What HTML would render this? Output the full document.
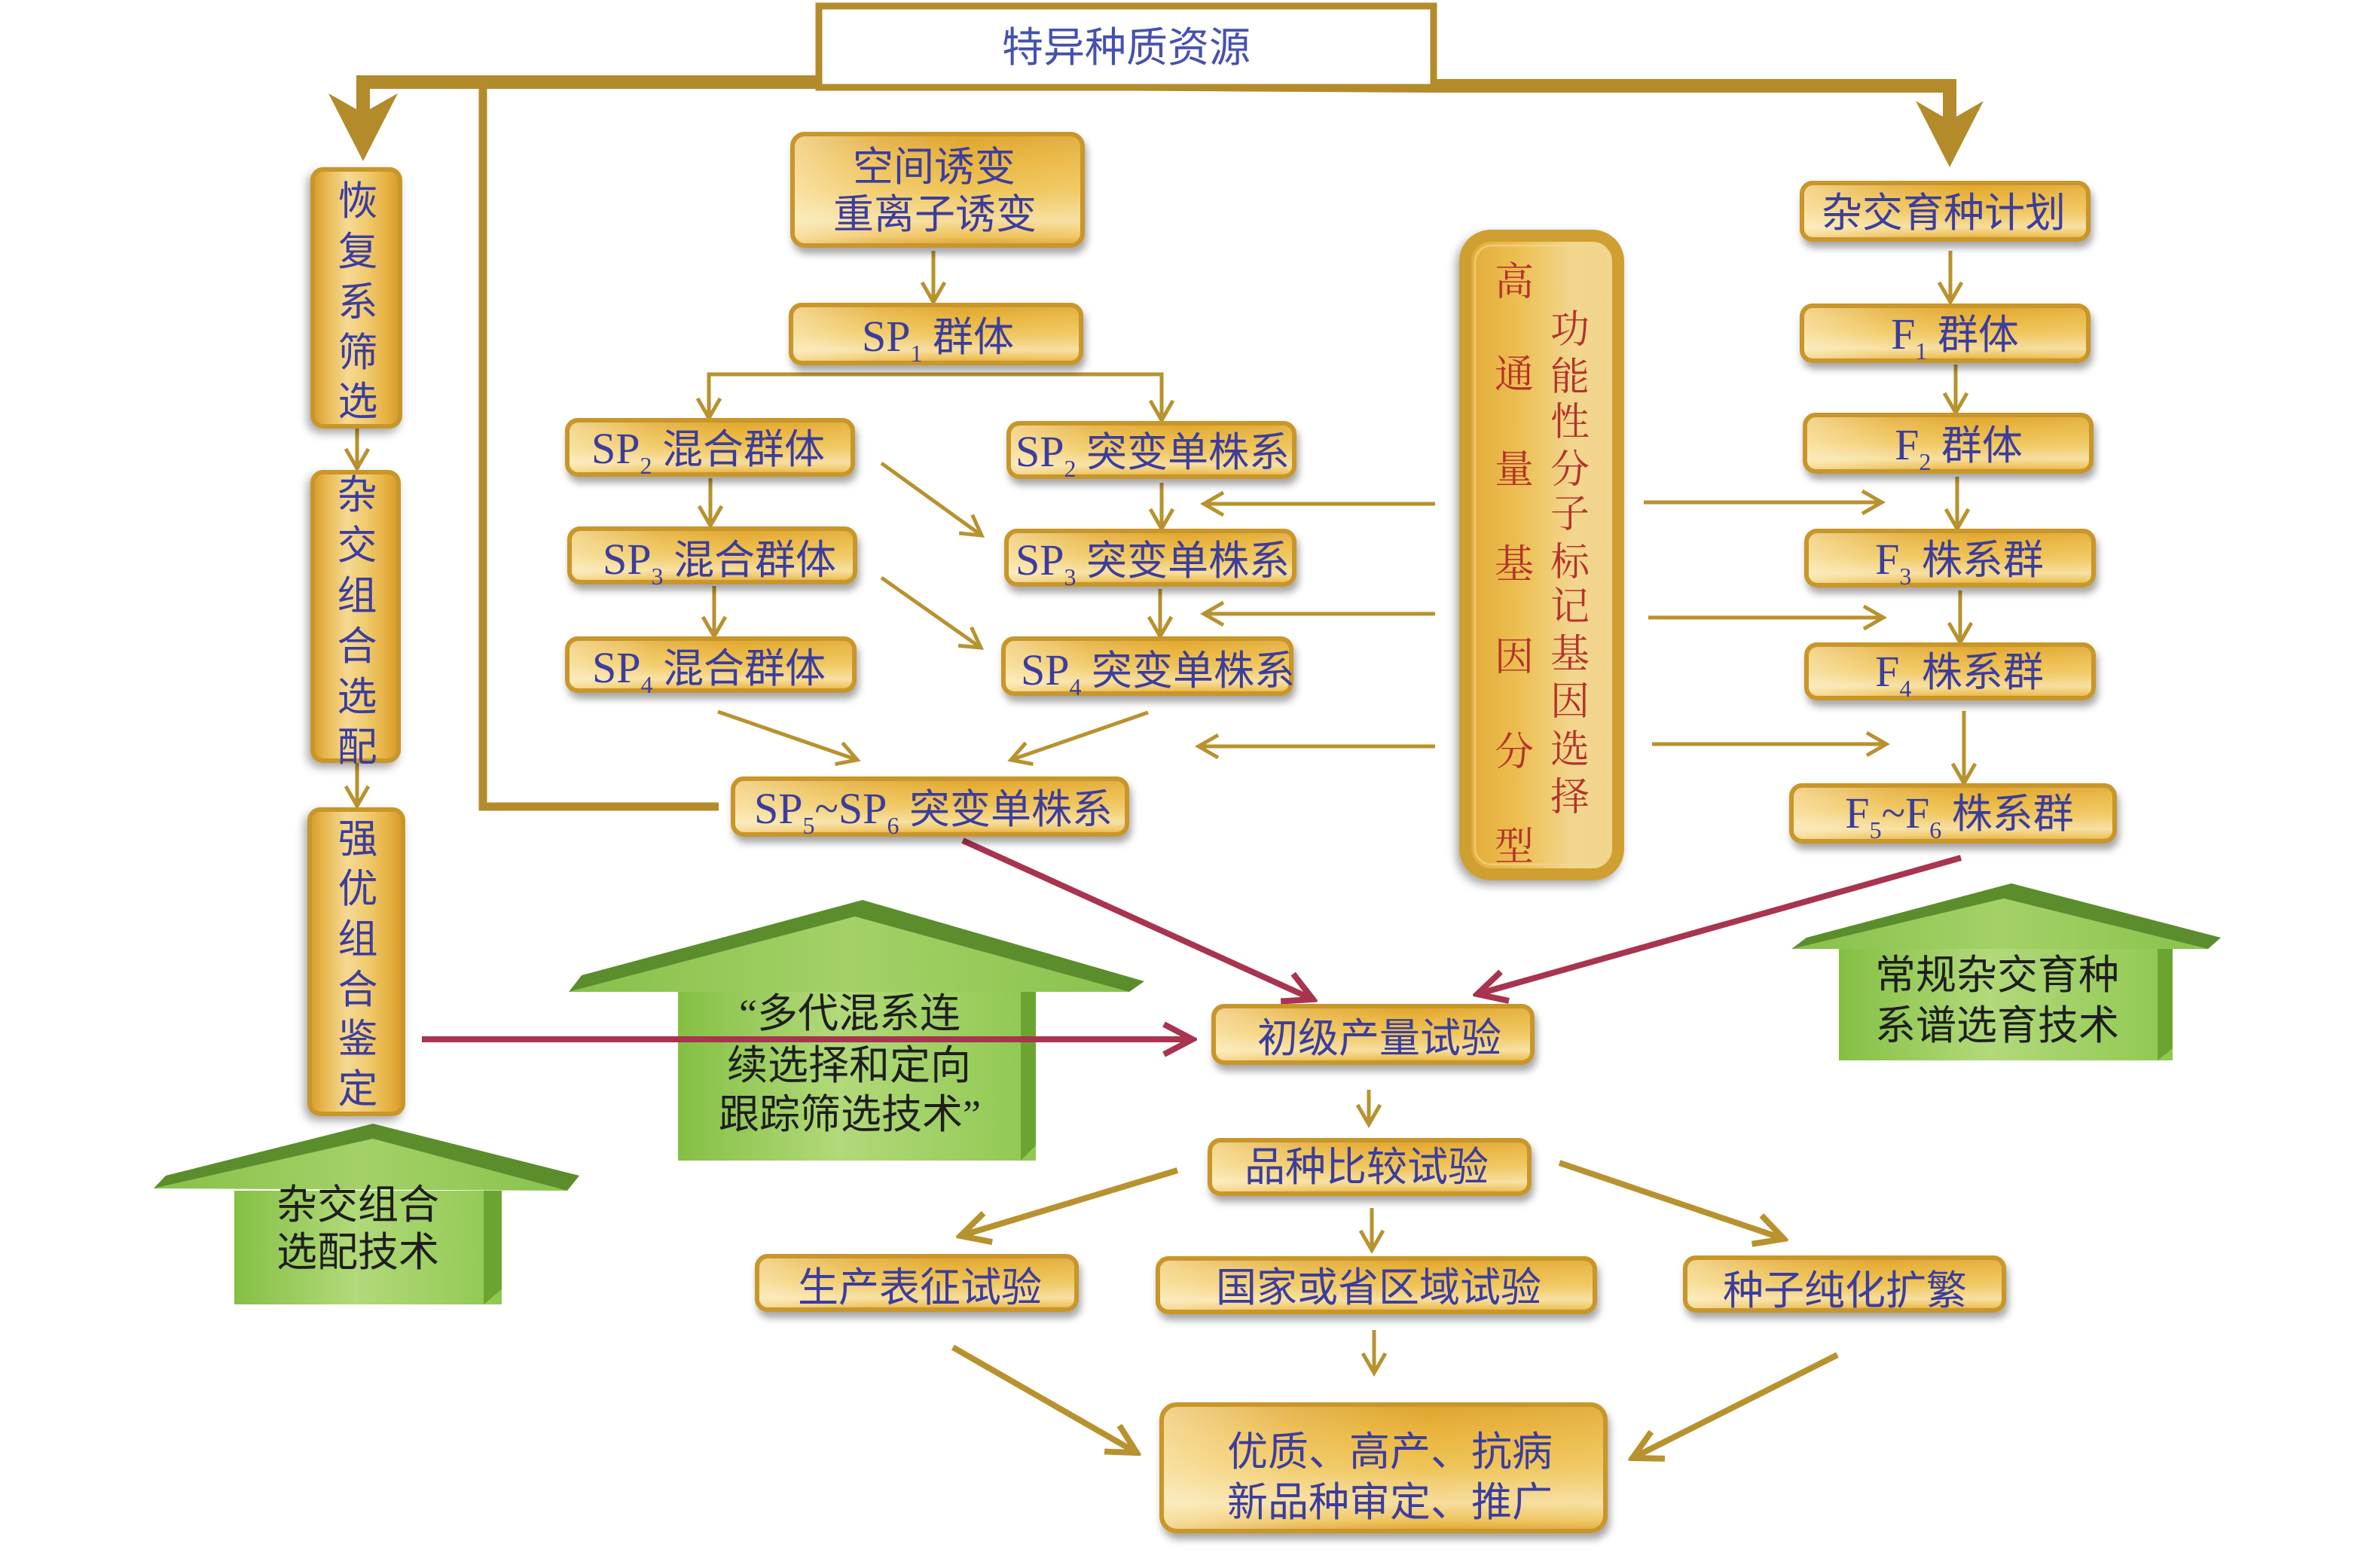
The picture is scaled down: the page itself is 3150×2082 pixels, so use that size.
<!DOCTYPE html>
<html>
<head>
<meta charset="utf-8">
<style>
  html, body { margin: 0; padding: 0; background: #ffffff; }
  body { width: 3150px; height: 2082px; overflow: hidden; }
  svg { display: block; }
  .t { font-family: "Liberation Serif", "Noto Sans CJK SC", sans-serif; fill: #3c3d9d; font-size: 54px; text-anchor: middle; }
  .v { font-family: "Liberation Serif", "Noto Sans CJK SC", sans-serif; fill: #3c3d9d; font-size: 53px; text-anchor: middle; }
  .r { font-family: "Liberation Serif", "Noto Serif CJK SC", serif; fill: #b5322c; font-size: 52px; text-anchor: middle; }
  .h { font-family: "Liberation Serif", "Noto Sans CJK SC", sans-serif; fill: #1e1e1e; font-size: 54px; text-anchor: middle; }
  .ttl { font-family: "Liberation Serif", "Noto Sans CJK SC", sans-serif; fill: #4651ad; font-size: 55px; text-anchor: middle; }
</style>
</head>
<body>
<svg width="3150" height="2082" viewBox="0 0 3150 2082" xmlns="http://www.w3.org/2000/svg">
  <defs>
    <linearGradient id="gold" x1="0" y1="0" x2="0" y2="1">
      <stop offset="0" stop-color="#dea42e"/>
      <stop offset="0.22" stop-color="#e9b43c"/>
      <stop offset="0.5" stop-color="#efc457"/>
      <stop offset="0.78" stop-color="#f6dd9c"/>
      <stop offset="0.92" stop-color="#eec157"/>
      <stop offset="1" stop-color="#dba032"/>
    </linearGradient>
    <linearGradient id="gloss" x1="0" y1="0" x2="1" y2="0">
      <stop offset="0" stop-color="#fff8dc" stop-opacity="0.55"/>
      <stop offset="0.3" stop-color="#fff8dc" stop-opacity="0.18"/>
      <stop offset="0.6" stop-color="#fff8dc" stop-opacity="0"/>
      <stop offset="1" stop-color="#fff8dc" stop-opacity="0.12"/>
    </linearGradient>
    <linearGradient id="goldv" x1="0" y1="0" x2="1" y2="0">
      <stop offset="0" stop-color="#d69b2a"/>
      <stop offset="0.18" stop-color="#eabb55"/>
      <stop offset="0.4" stop-color="#f5d994"/>
      <stop offset="0.62" stop-color="#f0cb6e"/>
      <stop offset="0.85" stop-color="#e6b042"/>
      <stop offset="1" stop-color="#d69b2a"/>
    </linearGradient>
    <linearGradient id="goldbig" x1="0" y1="0" x2="1" y2="0">
      <stop offset="0" stop-color="#e2aa36"/>
      <stop offset="0.35" stop-color="#ecbf52"/>
      <stop offset="0.7" stop-color="#f2d68e"/>
      <stop offset="1" stop-color="#f0d48c"/>
    </linearGradient>
    <linearGradient id="gbody" x1="0" y1="0" x2="1" y2="0">
      <stop offset="0" stop-color="#84c044"/>
      <stop offset="0.45" stop-color="#b2d97a"/>
      <stop offset="1" stop-color="#8fc851"/>
    </linearGradient>
    <linearGradient id="groof" x1="0" y1="0" x2="1" y2="0">
      <stop offset="0" stop-color="#86c049"/>
      <stop offset="0.5" stop-color="#a3d167"/>
      <stop offset="1" stop-color="#88c24c"/>
    </linearGradient>
    <filter id="sh" x="-10%" y="-20%" width="125%" height="160%">
      <feDropShadow dx="3" dy="8" stdDeviation="5" flood-color="#000" flood-opacity="0.35"/>
    </filter>
    <filter id="shv" x="-30%" y="-5%" width="160%" height="115%">
      <feDropShadow dx="-4" dy="6" stdDeviation="6" flood-color="#000" flood-opacity="0.35"/>
    </filter>
    <marker id="mg" markerUnits="userSpaceOnUse" viewBox="0 0 40 40" markerWidth="40" markerHeight="40" refX="34" refY="20" orient="auto">
      <path d="M8,5 L34,20 L8,35" fill="none" stroke="#b8922e" stroke-width="5"/>
    </marker>
    <marker id="mG" markerUnits="userSpaceOnUse" viewBox="0 0 52 52" markerWidth="52" markerHeight="52" refX="46" refY="26" orient="auto">
      <path d="M8,6 L46,26 L8,46" fill="none" stroke="#b8922e" stroke-width="8"/>
    </marker>
    <marker id="mr" markerUnits="userSpaceOnUse" viewBox="0 0 52 52" markerWidth="52" markerHeight="52" refX="46" refY="26" orient="auto">
      <path d="M8,6 L46,26 L8,46" fill="none" stroke="#a8344f" stroke-width="8"/>
    </marker>
  </defs>

  <!-- ============ Green houses ============ -->
  <!-- House 1: 杂交组合选配技术 -->
  <polygon points="204,1578 495,1512 753,1581" fill="url(#groof)"/>
  <polygon points="204,1578 220,1561 495,1492 769,1561 753,1581 495,1512" fill="#5c8d2c"/>
  <rect x="311" y="1581" width="355" height="151" fill="url(#gbody)"/>
  <polygon points="642,1581 666,1581 666,1712 642,1732" fill="#6aa532"/>
  <text class="h" x="475" y="1618">杂交组合</text>
  <text class="h" x="475" y="1681">选配技术</text>

  <!-- House 2: 多代混系 -->
  <polygon points="755,1317 1135,1217 1499,1317" fill="url(#groof)"/>
  <polygon points="755,1317 772,1295 1145,1195 1519,1303 1499,1317 1135,1217" fill="#5c8d2c"/>
  <rect x="900" y="1317" width="475" height="224" fill="url(#gbody)"/>
  <polygon points="1355,1317 1375,1317 1375,1521 1355,1541" fill="#6aa532"/>
  <text class="h" x="1128" y="1364">“多代混系连</text>
  <text class="h" x="1127" y="1433">续选择和定向</text>
  <text class="h" x="1128" y="1498">跟踪筛选技术”</text>

  <!-- House 3: 常规杂交育种 -->
  <polygon points="2378,1260 2660,1193 2931,1260" fill="url(#groof)"/>
  <polygon points="2378,1260 2398,1245 2670,1173 2948,1245 2931,1260 2660,1193" fill="#5c8d2c"/>
  <rect x="2441" y="1260" width="443" height="148" fill="url(#gbody)"/>
  <polygon points="2864,1260 2884,1260 2884,1392 2864,1408" fill="#6aa532"/>
  <text class="h" x="2651" y="1313">常规杂交育种</text>
  <text class="h" x="2651" y="1380">系谱选育技术</text>

  <!-- ============ Thick top bar & barbed arrows ============ -->
  <polyline points="482,152 482,109 1100,109 1900,114 2588,114 2588,162" fill="none" stroke="#b38b2a" stroke-width="18" stroke-linejoin="miter"/>
  <polygon points="436,124 482,150 528,124 482,214" fill="#b38b2a"/>
  <polygon points="2543,134 2588,160 2633,134 2588,222" fill="#b38b2a"/>

  <!-- thin-ish gold loop line on the left -->
  <polyline points="641,109 641,1071 954,1071" fill="none" stroke="#b38b2a" stroke-width="11"/>

  <!-- ============ Thin gold connectors ============ -->
  <g fill="none" stroke="#b8922e" stroke-width="5" marker-end="url(#mg)">
    <path d="M474,569 L474,622"/>
    <path d="M474,1013 L474,1070"/>
    <path d="M1239,333 L1239,401"/>
    <path d="M1242,497 L941,497 L941,555"/>
    <path d="M1242,497 L1542,497 L1542,558"/>
    <path d="M943,635 L943,698"/>
    <path d="M948,778 L948,845"/>
    <path d="M1542,641 L1542,702"/>
    <path d="M1540,782 L1540,845"/>
    <path d="M1170,615 L1303,711"/>
    <path d="M1170,767 L1302,860"/>
    <path d="M953,945 L1138,1009"/>
    <path d="M1524,946 L1342,1009"/>
    <path d="M1905,669 L1598,669"/>
    <path d="M1905,815 L1598,815"/>
    <path d="M1905,991 L1591,991"/>
    <path d="M2182,667 L2498,667"/>
    <path d="M2188,820 L2500,820"/>
    <path d="M2193,988 L2504,988"/>
    <path d="M2589,333 L2589,401"/>
    <path d="M2596,484 L2596,548"/>
    <path d="M2598,633 L2598,702"/>
    <path d="M2602,784 L2602,853"/>
    <path d="M2607,944 L2607,1040"/>
    <path d="M1817,1447 L1817,1493"/>
    <path d="M1821,1604 L1821,1660"/>
    <path d="M1824,1766 L1824,1823"/>
  </g>

  <!-- ============ Thicker gold diagonals (bottom) ============ -->
  <g fill="none" stroke="#b8922e" stroke-width="8" marker-end="url(#mG)">
    <path d="M1563,1554 L1275,1641"/>
    <path d="M2070,1544 L2368,1645"/>
    <path d="M1265,1789 L1509,1929"/>
    <path d="M2439,1799 L2167,1936"/>
  </g>

  <!-- ============ Red connectors ============ -->
  <g fill="none" stroke="#a8344f" stroke-width="8" marker-end="url(#mr)">
    <path d="M1278,1116 L1743,1327"/>
    <path d="M2603,1139 L1961,1320"/>
    <path d="M560,1380 L1583,1380"/>
  </g>

  <!-- ============ Title box ============ -->
  <rect x="1087" y="8" width="816" height="108" fill="#ffffff" stroke="#b38b2a" stroke-width="9"/>
  <text class="ttl" x="1495" y="82">特异种质资源</text>

  <!-- ============ Horizontal gold boxes ============ -->
  <g filter="url(#sh)" stroke="#c9962b" stroke-width="6" fill="url(#gold)">
    <rect x="1052" y="178" width="385" height="148" rx="16"/>
    <rect x="1050" y="405" width="385" height="77" rx="14"/>
    <rect x="753" y="558" width="379" height="72" rx="14"/>
    <rect x="1339" y="562" width="379" height="71" rx="14"/>
    <rect x="756" y="702" width="379" height="71" rx="14"/>
    <rect x="1336" y="705" width="382" height="71" rx="14"/>
    <rect x="753" y="848" width="381" height="69" rx="14"/>
    <rect x="1332" y="848" width="382" height="73" rx="14"/>
    <rect x="973" y="1034" width="523" height="74" rx="14"/>
    <rect x="2392" y="243" width="380" height="75" rx="14"/>
    <rect x="2392" y="406" width="380" height="73" rx="14"/>
    <rect x="2396" y="551" width="380" height="75" rx="14"/>
    <rect x="2398" y="705" width="381" height="72" rx="14"/>
    <rect x="2398" y="856" width="381" height="71" rx="14"/>
    <rect x="2378" y="1043" width="429" height="74" rx="14"/>
    <rect x="1611" y="1336" width="423" height="75" rx="14"/>
    <rect x="1606" y="1514" width="424" height="71" rx="14"/>
    <rect x="1005" y="1668" width="424" height="71" rx="14"/>
    <rect x="1537" y="1671" width="580" height="71" rx="14"/>
    <rect x="2237" y="1670" width="423" height="70" rx="14"/>
    <rect x="1542" y="1865" width="589" height="168" rx="20"/>
  </g>
  <g fill="url(#gloss)">
    <rect x="1055" y="181" width="379" height="142" rx="14"/>
    <rect x="1053" y="408" width="379" height="71" rx="12"/>
    <rect x="756" y="561" width="373" height="66" rx="12"/>
    <rect x="1342" y="565" width="373" height="65" rx="12"/>
    <rect x="759" y="705" width="373" height="65" rx="12"/>
    <rect x="1339" y="708" width="376" height="65" rx="12"/>
    <rect x="756" y="851" width="375" height="63" rx="12"/>
    <rect x="1335" y="851" width="376" height="67" rx="12"/>
    <rect x="976" y="1037" width="517" height="68" rx="12"/>
    <rect x="2395" y="246" width="374" height="69" rx="12"/>
    <rect x="2395" y="409" width="374" height="67" rx="12"/>
    <rect x="2399" y="554" width="374" height="69" rx="12"/>
    <rect x="2401" y="708" width="375" height="66" rx="12"/>
    <rect x="2401" y="859" width="375" height="65" rx="12"/>
    <rect x="2381" y="1046" width="423" height="68" rx="12"/>
    <rect x="1614" y="1339" width="417" height="69" rx="12"/>
    <rect x="1609" y="1517" width="418" height="65" rx="12"/>
    <rect x="1008" y="1671" width="418" height="65" rx="12"/>
    <rect x="1540" y="1674" width="574" height="65" rx="12"/>
    <rect x="2240" y="1673" width="417" height="64" rx="12"/>
    <rect x="1545" y="1868" width="583" height="162" rx="18"/>
  </g>

  <!-- ============ Vertical gold boxes ============ -->
  <g filter="url(#shv)" stroke="#c9962b" stroke-width="6" fill="url(#goldv)">
    <rect x="415" y="225" width="116" height="341" rx="14"/>
    <rect x="415" y="627" width="114" height="383" rx="14"/>
    <rect x="411" y="1075" width="124" height="404" rx="14"/>
  </g>
  <g filter="url(#shv)">
    <rect x="1945" y="313" width="203" height="848" rx="34" fill="url(#goldbig)" stroke="#cf9f30" stroke-width="16"/>
  </g>
  <rect x="1958" y="326" width="177" height="822" rx="22" fill="none" stroke="#f3d98f" stroke-opacity="0.6" stroke-width="3"/>

  <!-- ============ Box texts ============ -->
  <text class="t" x="1240" y="240">空间诱变</text>
  <text class="t" x="1241" y="303">重离子诱变</text>

  <text class="t" x="1245" y="466"><tspan font-size="58">SP</tspan><tspan font-size="32" dy="14">1</tspan><tspan dy="-14"> 群体</tspan></text>
  <text class="t" x="940" y="615"><tspan font-size="58">SP</tspan><tspan font-size="32" dy="14">2</tspan><tspan dy="-14"> 混合群体</tspan></text>
  <text class="t" x="1530" y="619"><tspan font-size="58">SP</tspan><tspan font-size="32" dy="14">2</tspan><tspan dy="-14"> 突变单株系</tspan></text>
  <text class="t" x="955" y="762"><tspan font-size="58">SP</tspan><tspan font-size="32" dy="14">3</tspan><tspan dy="-14"> 混合群体</tspan></text>
  <text class="t" x="1530" y="763"><tspan font-size="58">SP</tspan><tspan font-size="32" dy="14">3</tspan><tspan dy="-14"> 突变单株系</tspan></text>
  <text class="t" x="941" y="906"><tspan font-size="58">SP</tspan><tspan font-size="32" dy="14">4</tspan><tspan dy="-14"> 混合群体</tspan></text>
  <text class="t" x="1537" y="909"><tspan font-size="58">SP</tspan><tspan font-size="32" dy="14">4</tspan><tspan dy="-14"> 突变单株系</tspan></text>
  <text class="t" x="1239" y="1093"><tspan font-size="58">SP</tspan><tspan font-size="32" dy="14">5</tspan><tspan font-size="58" dy="-14">~SP</tspan><tspan font-size="32" dy="14">6</tspan><tspan dy="-14"> 突变单株系</tspan></text>

  <text class="t" x="2580" y="301">杂交育种计划</text>
  <text class="t" x="2595" y="463"><tspan font-size="58">F</tspan><tspan font-size="32" dy="14">1</tspan><tspan dy="-14"> 群体</tspan></text>
  <text class="t" x="2600" y="610"><tspan font-size="58">F</tspan><tspan font-size="32" dy="14">2</tspan><tspan dy="-14"> 群体</tspan></text>
  <text class="t" x="2601" y="762"><tspan font-size="58">F</tspan><tspan font-size="32" dy="14">3</tspan><tspan dy="-14"> 株系群</tspan></text>
  <text class="t" x="2601" y="911"><tspan font-size="58">F</tspan><tspan font-size="32" dy="14">4</tspan><tspan dy="-14"> 株系群</tspan></text>
  <text class="t" x="2601" y="1099"><tspan font-size="58">F</tspan><tspan font-size="32" dy="14">5</tspan><tspan font-size="58" dy="-14">~F</tspan><tspan font-size="32" dy="14">6</tspan><tspan dy="-14"> 株系群</tspan></text>

  <text class="t" x="1831" y="1397">初级产量试验</text>
  <text class="t" x="1814" y="1568">品种比较试验</text>
  <text class="t" x="1221" y="1728">生产表征试验</text>
  <text class="t" x="1830" y="1728">国家或省区域试验</text>
  <text class="t" x="2449" y="1732">种子纯化扩繁</text>
  <text class="t" x="1845" y="1946">优质、高产、抗病</text>
  <text class="t" x="1845" y="2013">新品种审定、推广</text>

  <!-- vertical texts -->
  <g class="v">
    <text class="v" x="475" y="285">恢</text>
    <text class="v" x="475" y="352">复</text>
    <text class="v" x="475" y="419">系</text>
    <text class="v" x="475" y="486">筛</text>
    <text class="v" x="475" y="551">选</text>

    <text class="v" x="474" y="675">杂</text>
    <text class="v" x="474" y="742">交</text>
    <text class="v" x="474" y="809">组</text>
    <text class="v" x="474" y="876">合</text>
    <text class="v" x="474" y="943">选</text>
    <text class="v" x="474" y="1010">配</text>

    <text class="v" x="475" y="1132">强</text>
    <text class="v" x="475" y="1198">优</text>
    <text class="v" x="475" y="1265">组</text>
    <text class="v" x="475" y="1332">合</text>
    <text class="v" x="475" y="1397">鉴</text>
    <text class="v" x="475" y="1464">定</text>
  </g>

  <g>
    <text class="r" x="2010" y="392">高</text>
    <text class="r" x="2010" y="515">通</text>
    <text class="r" x="2010" y="641">量</text>
    <text class="r" x="2010" y="767">基</text>
    <text class="r" x="2010" y="890">因</text>
    <text class="r" x="2010" y="1016">分</text>
    <text class="r" x="2010" y="1142">型</text>

    <text class="r" x="2084" y="455">功</text>
    <text class="r" x="2084" y="518">能</text>
    <text class="r" x="2084" y="578">性</text>
    <text class="r" x="2084" y="641">分</text>
    <text class="r" x="2084" y="700">子</text>
    <text class="r" x="2084" y="764">标</text>
    <text class="r" x="2084" y="823">记</text>
    <text class="r" x="2084" y="886">基</text>
    <text class="r" x="2084" y="949">因</text>
    <text class="r" x="2084" y="1013">选</text>
    <text class="r" x="2084" y="1076">择</text>
  </g>
</svg>
</body>
</html>
